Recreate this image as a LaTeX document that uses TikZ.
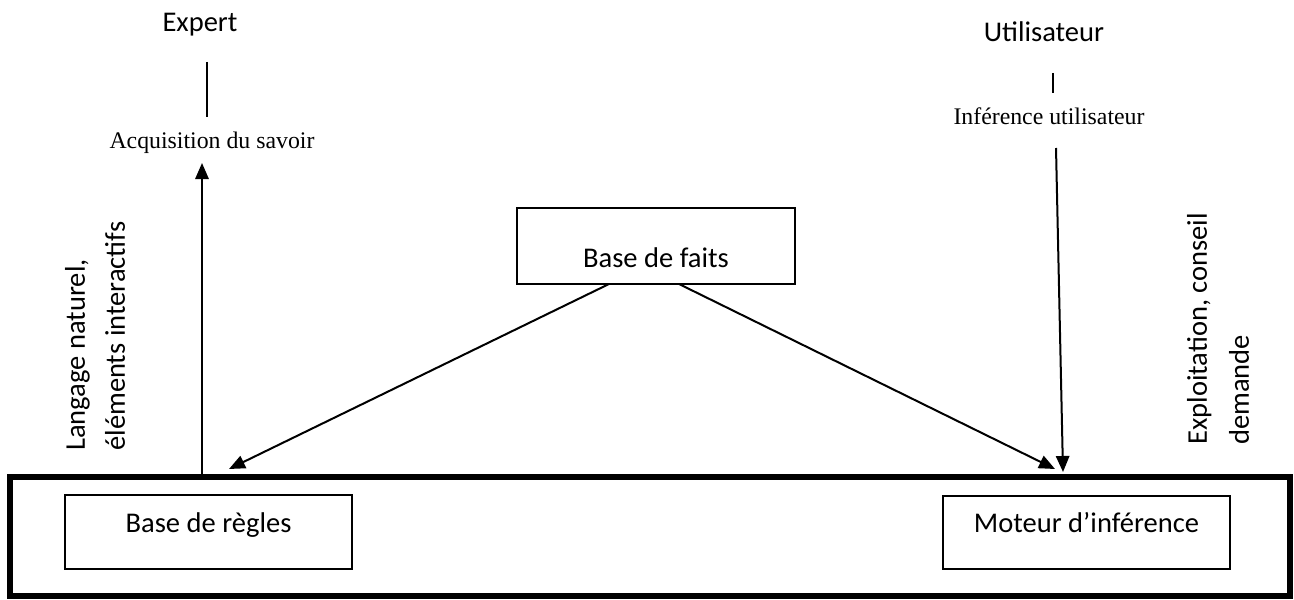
\documentclass[tikz,border=0pt]{standalone}
\usepackage{fontspec}
\setmainfont{Carlito}
\newfontfamily\serifrm{Liberation Serif}
\usetikzlibrary{arrows.meta}

\tikzset{
  boite/.style={draw, line width=1.5pt, inner sep=0pt, font=\fontsize{21.4}{30}\selectfont},
  cadre/.style={draw, line width=4.5pt, inner sep=0pt},
  etiq/.style={inner sep=0pt, font=\fontsize{21.4}{30}\selectfont},
  petit/.style={inner sep=0pt, font=\serifrm\fontsize{17.85}{21}\selectfont},
  lien/.style={line width=1.5pt},
  fleche/.style={line width=1.5pt, -{Triangle[length=12pt,width=10pt]}},
}

\begin{document}
\begin{tikzpicture}[x=0.75pt,y=0.75pt,yscale=-1,xscale=1]
\useasboundingbox (0,0) rectangle (1294,599);

% Shape: Frame
\node [cadre, minimum width=1280*0.75pt, minimum height=119*0.75pt] (systeme) at (650,536.5) {};
% Shape: Rectangle
\node [boite, minimum width=287*0.75pt, minimum height=74*0.75pt, text height=10pt, text depth=10pt] (regles) at (208.5,532) {Base de règles};
% Shape: Rectangle
\node [boite, minimum width=287*0.75pt, minimum height=73*0.75pt, text height=10pt, text depth=10pt] (moteur) at (1086.5,532.5) {Moteur d’inférence};
% Shape: Rectangle
\node [boite, minimum width=278*0.75pt, minimum height=76*0.75pt, text height=31.5pt, text depth=0pt] (faits) at (656,246) {Base de faits};

% Text Node
\node [etiq, anchor=base] (expert) at (200,32) {Expert};
% Text Node
\node [etiq, anchor=base] (utilisateur) at (1044,42) {Utilisateur};
% Text Node
\node [petit, anchor=base] (acquisition) at (212,148) {Acquisition du savoir};
% Text Node
\node [petit, anchor=base] (inference) at (1049,125) {Inférence utilisateur};
% Text Node
\node [etiq, rotate=90, anchor=west, align=left] (langage) at (95,451) {Langage naturel,\\éléments interactifs};
% Text Node
\node [etiq, rotate=90, anchor=west, align=left, font=\fontsize{21.4}{31.5}\selectfont] (exploitation) at (1218,445) {Exploitation, conseil\\demande};

% Connection points
\coordinate (expert-haut) at (207,62);
\coordinate (expert-bas) at (207,117);
\coordinate (util-haut) at (1053,73);
\coordinate (util-bas) at (1053,93);
\coordinate (regles-depart) at (202,476);
\coordinate (acq-pointe) at (202,163);
\coordinate (util-depart) at (1056,148);
\coordinate (moteur-pointe) at (1063,472);
\coordinate (faits-g) at (609,284);
\coordinate (regles-pointe) at (229,469);
\coordinate (faits-d) at (679,284);
\coordinate (moteur-pointe2) at (1055,469);

% Connection
\draw [lien] (expert-haut) -- (expert-bas);
% Connection
\draw [lien] (util-haut) -- (util-bas);
% Connection
\draw [fleche] (regles-depart) -- (acq-pointe);
% Connection
\draw [fleche] (util-depart) -- (moteur-pointe);
% Connection
\draw [fleche] (faits-g) -- (regles-pointe);
% Connection
\draw [fleche] (faits-d) -- (moteur-pointe2);

\end{tikzpicture}
\end{document}
